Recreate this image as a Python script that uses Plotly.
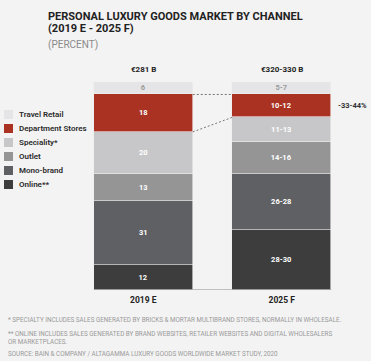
import plotly.graph_objects as go

# ---- data ----
years = ["2019 E", "2025 F"]
totals = ["€281 B", "€320-330 B"]
channels = ["Online**", "Mono-brand", "Outlet", "Speciality*", "Department Stores", "Travel Retail"]
# values (midpoints used for stacking) and label text, bottom to top
values_2019 = [12, 31, 13, 20, 18, 6]
values_2025 = [29, 27, 15, 12, 11, 6]
labels_2019 = ["12", "31", "13", "20", "18", "6"]
labels_2025 = ["28-30", "26-28", "14-16", "11-13", "10-12", "5-7"]
dept_change = "-33-44%"
title_lines = ["PERSONAL LUXURY GOODS MARKET BY CHANNEL", "(2019 E - 2025 F)"]
subtitle = "(PERCENT)"
footnotes = [
    "* SPECIALTY INCLUDES SALES GENERATED BY BRICKS & MORTAR MULTIBRAND STORES, NORMALLY IN WHOLESALE.",
    "** ONLINE INCLUDES SALES GENERATED BY BRAND WEBSITES, RETAILER WEBSITES AND DIGITAL WHOLESALERS<br>OR MARKETPLACES.",
    "SOURCE: BAIN & COMPANY / ALTAGAMMA LUXURY GOODS WORLDWIDE MARKET STUDY, 2020",
]

# ---- style ----
colors = ["#3d3d3d", "#5f6063", "#959596", "#c7c7c9", "#aa3222", "#e5e5e7"]
text_colors = ["#ffffff", "#ffffff", "#ffffff", "#ffffff", "#ffffff", "#9a9a9a"]
BG = "#f3f3f3"
W_PX, H_PX = 371, 361
L, R, T, B = 74, 351, 82, 290
BARW = 0.715


def px(x):
    return (x - L) / (R - L)


def py(y):
    return (B - y) / (B - T)


fig = go.Figure()
for i, ch in enumerate(channels):
    fig.add_trace(go.Bar(
        x=years,
        y=[values_2019[i], values_2025[i]],
        text=[labels_2019[i], labels_2025[i]],
        texttemplate="<b>%{text}</b>",
        textposition="inside",
        insidetextanchor="middle",
        textangle=0,
        constraintext="none",
        textfont=dict(size=7.5, color=text_colors[i], family="Roboto"),
        marker=dict(color=colors[i], line=dict(color="#eeeeee", width=0.6)),
        width=BARW,
        name=ch,
        showlegend=False,
        hoverinfo="skip",
    ))

shapes = []
annotations = []

# dashed connectors for department stores
d = channels.index("Department Stores")
top19 = sum(values_2019[: d + 1])
bot19 = sum(values_2019[:d])
top25 = sum(values_2025[: d + 1])
bot25 = sum(values_2025[:d])
for y0, y1 in [(top19, top25), (bot19, bot25)]:
    shapes.append(dict(type="line", xref="x", yref="y", x0=BARW / 2, x1=1 - BARW / 2,
                       y0=y0, y1=y1, line=dict(color="#777777", width=1, dash="2px,2px")))
annotations.append(dict(xref="x", yref="y", x=1 + BARW / 2, y=(top25 + bot25) / 2,
                        text="<b>" + dept_change + "</b>", showarrow=False, xanchor="left",
                        xshift=5, font=dict(size=7.5, color="#333333", family="Roboto")))

# baseline
shapes.append(dict(type="line", xref="x", yref="y", x0=-BARW / 2, x1=1 + BARW / 2, y0=0, y1=0,
                   line=dict(color="#8a8a8a", width=1)))

# totals above bars
for i, t in enumerate(totals):
    annotations.append(dict(xref="x", yref="y", x=i, y=100, text="<b>" + t + "</b>", showarrow=False,
                            yanchor="bottom", yshift=6, font=dict(size=8, color="#222222", family="Roboto")))

# manual legend (top to bottom)
for k, ch in enumerate(reversed(channels)):
    ci = channels.index(ch)
    cy = 114.5 + 14 * k
    shapes.append(dict(type="rect", xref="paper", yref="paper", x0=px(4), x1=px(13),
                       y0=py(cy + 4.5), y1=py(cy - 4.5), fillcolor=colors[ci], line=dict(width=0)))
    annotations.append(dict(xref="paper", yref="paper", x=px(17), y=py(cy), text=ch, showarrow=False,
                            xanchor="left", yanchor="middle",
                            font=dict(size=8, color="#2a2a2a", family="Roboto", weight=600)))

# title
annotations.append(dict(xref="paper", yref="paper", x=px(46), y=py(16), text="<b>" + title_lines[0] + "</b>",
                        showarrow=False, xanchor="left", yanchor="middle",
                        font=dict(size=11, color="#222222", family="Roboto")))
annotations.append(dict(xref="paper", yref="paper", x=px(46), y=py(28), text="<b>" + title_lines[1] + "</b>",
                        showarrow=False, xanchor="left", yanchor="middle",
                        font=dict(size=11, color="#222222", family="Roboto")))
annotations.append(dict(xref="paper", yref="paper", x=px(46), y=py(44.5), text=subtitle,
                        showarrow=False, xanchor="left", yanchor="middle",
                        font=dict(size=10, color="#8a8a8a", family="Roboto")))

# footnotes
foot_y = [320, 337.5, 354]
for t, yy in zip(footnotes, foot_y):
    annotations.append(dict(xref="paper", yref="paper", x=px(6), y=py(yy), text=t, showarrow=False,
                            xanchor="left", yanchor="middle", align="left",
                            font=dict(size=6.3, color="#9a9a9a", family="Roboto")))

fig.update_layout(
    barmode="stack",
    width=W_PX, height=H_PX,
    margin=dict(l=L, r=W_PX - R, t=T, b=H_PX - B, pad=0),
    paper_bgcolor=BG, plot_bgcolor=BG,
    bargap=0,
    shapes=shapes,
    annotations=annotations,
    xaxis=dict(type="category", range=[-0.5, 1.5], showgrid=False, zeroline=False, showline=False,
               ticks="", tickvals=years, ticktext=["<b>" + y + "</b>" for y in years],
               ticklabelstandoff=3,
               tickfont=dict(size=8.5, color="#222222", family="Roboto")),
    yaxis=dict(range=[0, 100], showgrid=False, zeroline=False, showline=False, showticklabels=False),
)

fig.write_html(
    "out.html",
    config={"displayModeBar": False},
    post_script="document.body.style.margin='0';document.body.style.padding='0';"
                "document.body.style.background='#f3f3f3';document.body.style.overflow='hidden';",
)
